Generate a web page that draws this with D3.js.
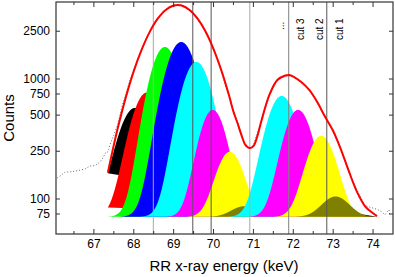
<!DOCTYPE html>
<html>
<head>
<meta charset="utf-8">
<script src="https://cdn.jsdelivr.net/npm/d3@7"></script>
<style>
  body { margin: 0; background: #fff; }
  text { font-family: "Liberation Sans", Arial, sans-serif; fill: #000; }
</style>
</head>
<body>
<script>
(function(){

//measured spectrum (dotted trace)
var dataEnergy = [66.08, 66.15, 66.28, 66.4, 66.53, 66.65, 66.78, 66.9, 67.03, 67.15, 67.23, 67.3, 67.35, 67.42, 67.5, 67.6, 67.7, 67.8, 67.9,
  68.0, 68.2, 68.4, 68.6, 68.8, 69.0, 69.2, 69.4, 69.6, 69.8, 70.0, 70.2, 70.4, 70.6, 70.8, 70.9, 71.0, 71.2, 71.4, 71.6, 71.8,
  72.0, 72.2, 72.4, 72.6, 72.8, 73.0, 73.2, 73.4, 73.6, 73.8, 73.9, 74.0, 74.1, 74.2, 74.3, 74.35, 74.4, 74.42];
var dataCounts = [150, 155, 168, 168, 171, 174, 178, 188, 190, 203, 220, 246, 246, 293, 341, 422, 585, 750, 962,
  1190, 1740, 2500, 3150, 3800, 4050, 4150, 3720, 3220, 2450, 1800, 1150, 690, 440, 275, 262, 280, 455, 720, 990, 1060,
  1060, 930, 820, 630, 490, 360, 262, 165, 118, 88, 86, 84, 82, 79, 74, 78, 81, 72];

//total fit (red line)
var fitEnergy = [67.35, 67.5, 67.6, 67.8, 68.0, 68.2, 68.4, 68.6, 68.8, 69.0, 69.1, 69.2, 69.4, 69.6, 69.8, 70.0, 70.2, 70.4,
  70.5, 70.6, 70.7, 70.8, 70.9, 71.0, 71.1, 71.2, 71.4, 71.6, 71.8, 71.9, 72.0, 72.2, 72.4, 72.6, 72.8, 73.0, 73.2, 73.4,
  73.6, 73.8, 74.0, 74.1];
var fitCounts = [166, 282, 391, 703, 1164, 1762, 2469, 3181, 3764, 4095, 4140, 4100, 3764, 3186, 2489, 1778, 1170, 708,
  533, 430, 341, 282, 266, 276, 335, 447, 736, 981, 1069, 1080, 1049, 944, 810, 643, 482, 369, 256, 168,
  114, 87, 76, 72];

//fit components (one gaussian each, flat background), in drawing order:
//first the low-energy line of every cut, then the high-energy line
var background = 71;
var compRange = [67.35, 74.1];
var compColors = ["#000000", "#ff0000", "#00ff00", "#0000ff", "#00ffff", "#ff00ff", "#ffff00", "#808000",
  "#00ffff", "#ff00ff", "#ffff00", "#808000"];
var compCenter = [68.03, 68.33, 68.78, 69.19, 69.57, 69.98, 70.41, 70.76,
  71.71, 72.12, 72.70, 73.06];
var compHeight = [503, 700, 1778, 1963, 1316, 482, 177, 16,
  652, 482, 265, 34];
var compWidth = [0.37, 0.35, 0.34, 0.36, 0.34, 0.30, 0.30, 0.30,
  0.34, 0.32, 0.32, 0.32];

//cut markers
var cutEnergy = [68.49, 69.48, 69.94, 70.91, 71.885, 72.84];
var cutColors = ["#a8a8a8", "#555555", "#555555", "#a8a8a8", "#808080", "#555555"];
var cutLabels = ["...", "cut 3", "cut 2", "cut 1"];
var cutLabelEnergy = [71.76, 72.27, 72.745, 73.25];
var cutLabelBase = [30, 40, 40, 40];

var xTicks = [67, 68, 69, 70, 71, 72, 73, 74];
var yTicks = [75, 100, 250, 500, 750, 1000, 2500];

var width = 395, height = 277,
  left = 56, right = 393, top = 2, bottom = 234;

var x = d3.scaleLinear().domain([66.05, 74.5]).range([left, right]);
var y = d3.scaleLog().domain([51.1, 4382]).range([bottom, top]);

var svg = d3.select("body").append("svg")
  .attr("width", width)
  .attr("height", height);

svg.append("clipPath").attr("id", "plotClip")
  .append("rect")
  .attr("x", left).attr("y", top)
  .attr("width", right - left).attr("height", bottom - top);

var plot = svg.append("g").attr("clip-path", "url(#plotClip)");

//component curves, each closed back to its first point
var steps = d3.range(compRange[0], compRange[1] + 0.0001, 0.01);
var line = d3.line().x(function(d){ return x(d[0]); }).y(function(d){ return y(d[1]); });

compColors.forEach(function(col, i){
  var pts = steps.map(function(e){
    var g = compHeight[i] * Math.exp(-0.5 * Math.pow((e - compCenter[i]) / compWidth[i], 2));
    return [e, background + g];
  });
  plot.append("path")
    .attr("d", line(pts) + "Z")
    .attr("fill", col)
    .attr("stroke", "none");
});

//measured data
var dataPts = dataEnergy.map(function(e, i){ return [e, dataCounts[i]]; });
plot.append("path")
  .attr("d", line(dataPts))
  .attr("fill", "none")
  .attr("stroke", "#444")
  .attr("stroke-width", 0.8)
  .attr("stroke-dasharray", "1,2");

//vertical cut lines
plot.selectAll(".cut")
  .data(cutEnergy)
  .enter()
  .append("line")
  .attr("class", "cut")
  .attr("x1", function(d){ return x(d); })
  .attr("x2", function(d){ return x(d); })
  .attr("y1", top)
  .attr("y2", bottom)
  .attr("stroke", function(d, i){ return cutColors[i]; })
  .attr("stroke-width", 1);

//total fit
var fitPts = fitEnergy.map(function(e, i){ return [e, fitCounts[i]]; });
plot.append("path")
  .attr("d", line.curve(d3.curveCatmullRom)(fitPts))
  .attr("fill", "none")
  .attr("stroke", "#ff0000")
  .attr("stroke-width", 2);

//cut labels, rotated
svg.selectAll(".cutLabel")
  .data(cutLabels)
  .enter()
  .append("text")
  .attr("class", "cutLabel")
  .attr("transform", function(d, i){ return "translate(" + x(cutLabelEnergy[i]) + "," + cutLabelBase[i] + ") rotate(-90)"; })
  .attr("font-size", 10)
  .text(function(d){ return d; });

//ticks, inward on all four sides
var axisCol = "#333";
var minorX = d3.range(66.5, 74.5, 1);
function tickLines(vals, len, vertical){
  vals.forEach(function(v){
    if (vertical) {
      svg.append("line").attr("x1", x(v)).attr("x2", x(v)).attr("y1", bottom).attr("y2", bottom - len).attr("stroke", axisCol);
      svg.append("line").attr("x1", x(v)).attr("x2", x(v)).attr("y1", top).attr("y2", top + len).attr("stroke", axisCol);
    } else {
      svg.append("line").attr("x1", left).attr("x2", left + len).attr("y1", y(v)).attr("y2", y(v)).attr("stroke", axisCol);
      svg.append("line").attr("x1", right).attr("x2", right - len).attr("y1", y(v)).attr("y2", y(v)).attr("stroke", axisCol);
    }
  });
}
tickLines(xTicks, 5, true);
tickLines(minorX, 3, true);
tickLines(yTicks, 4, false);

//frame
svg.append("rect")
  .attr("x", left).attr("y", top)
  .attr("width", right - left).attr("height", bottom - top)
  .attr("fill", "none")
  .attr("stroke", axisCol)
  .attr("stroke-width", 1.2);

//tick labels
svg.selectAll(".xlab")
  .data(xTicks)
  .enter()
  .append("text")
  .attr("x", function(d){ return x(d); })
  .attr("y", 248)
  .attr("text-anchor", "middle")
  .attr("font-size", 12)
  .text(function(d){ return d; });

svg.selectAll(".ylab")
  .data(yTicks)
  .enter()
  .append("text")
  .attr("x", 50)
  .attr("y", function(d){ return y(d); })
  .attr("dy", "0.35em")
  .attr("text-anchor", "end")
  .attr("font-size", 12)
  .text(function(d){ return d; });

//axis titles
svg.append("text")
  .attr("x", 224)
  .attr("y", 271)
  .attr("text-anchor", "middle")
  .attr("font-size", 15)
  .text("RR x-ray energy (keV)");

svg.append("text")
  .attr("transform", "translate(13.5,118) rotate(-90)")
  .attr("text-anchor", "middle")
  .attr("font-size", 15)
  .text("Counts");

})();
</script>
</body>
</html>
